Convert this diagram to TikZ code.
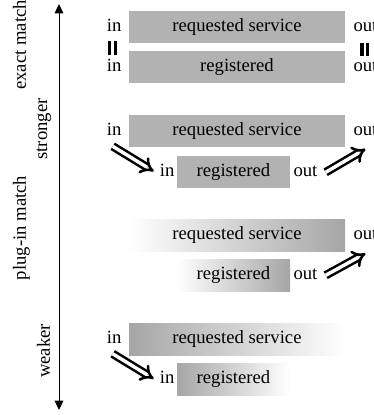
\documentclass[tikz,border=0pt]{standalone}
\usepackage{fontspec}
\setmainfont{Liberation Serif}
\newfontfamily\timesfont{Liberation Serif}
\usetikzlibrary{arrows.meta}

\begin{document}
\begin{tikzpicture}[x=0.75pt,y=-0.75pt,
    every node/.style={font=\timesfont\fontsize{14}{16}\selectfont},
    box/.style={minimum height=24pt,inner sep=0pt},
    wide/.style={box,minimum width=162pt},
    narrow/.style={box,minimum width=84.75pt},
    port/.style={inner sep=0pt},
    flat/.style={fill=black!30},
    fadeup/.style={left color=white,right color=black!35},
    fadedown/.style={left color=black!35,right color=white},
    impl/.style={double,double distance=2.6pt,line width=1.9pt,-{Implies}},
    eqbar/.style={line width=2.3pt}]

    \useasboundingbox (0,0) rectangle (374,415);

    %strength axis
    \coordinate (top) at (59,4);
    \coordinate (bot) at (59,410);
    \draw[line width=0.75pt,{Triangle[length=7pt,width=6.5pt]}-{Triangle[length=7pt,width=6.5pt]}] (top) -- (bot);
    \node[rotate=90,anchor=base] (exact) at (26,45) {exact match};
    \node[rotate=90,anchor=base] (plugin) at (26,228) {plug-in match};
    \node[rotate=90,anchor=base] (strong) at (47,129) {stronger};
    \node[rotate=90,anchor=base] (weak) at (50,351) {weaker};

    %exact match
    \node[wide,flat] (r1) at (237,27) {requested service};
    \node[wide,flat] (g1) at (237,67) {registered};
    %plug-in, both sides
    \node[wide,flat] (r2) at (237,131) {requested service};
    \node[narrow,flat] (g2) at (233.5,172) {registered};
    %plug-in, output only
    \node[wide,fadeup] (r3) at (237,235.5) {requested service};
    \node[narrow,fadeup] (g3) at (233.5,275) {registered};
    %plug-in, input only
    \node[wide,fadedown] (r4) at (237,339.5) {requested service};
    \node[narrow,fadedown] (g4) at (233.5,379.5) {registered};

    %ports
    \node[port,anchor=base east] (in1) at ([xshift=-5.25pt]r1.base west) {in};
    \node[port,anchor=base west] (out1) at ([xshift=6pt]r1.base east) {out};
    \node[port,anchor=base east] (ing1) at ([xshift=-5.25pt]g1.base west) {in};
    \node[port,anchor=base west] (outg1) at ([xshift=6pt]g1.base east) {out};
    \node[port,anchor=base east] (in2) at ([xshift=-5.25pt]r2.base west) {in};
    \node[port,anchor=base west] (out2) at ([xshift=6pt]r2.base east) {out};
    \node[port,anchor=base east] (ing2) at ([xshift=-1.5pt]g2.base west) {in};
    \node[port,anchor=base west] (outg2) at ([xshift=2.25pt]g2.base east) {out};
    \node[port,anchor=base west] (out3) at ([xshift=6pt]r3.base east) {out};
    \node[port,anchor=base west] (outg3) at ([xshift=2.25pt]g3.base east) {out};
    \node[port,anchor=base east] (in4) at ([xshift=-5.25pt]r4.base west) {in};
    \node[port,anchor=base east] (ing4) at ([xshift=-1.5pt]g4.base west) {in};

    %equal signs
    \draw[eqbar] (109.5,41) -- (109.5,55) (115.5,41) -- (115.5,55);
    \draw[eqbar] (362,43) -- (362,56) (367.5,43) -- (367.5,56);

    %implications
    \draw[impl] ([shift={(-47,-24)}]ing2.west) -- ([shift={(-6,1)}]ing2.west);
    \draw[impl] ([shift={(8,1)}]outg2.east) -- ([shift={(0,13)}]out2.south);
    \draw[impl] ([shift={(8,1)}]outg3.east) -- ([shift={(0,13)}]out3.south);
    \draw[impl] ([shift={(-47,-24)}]ing4.west) -- ([shift={(-6,1)}]ing4.west);

\end{tikzpicture}
\end{document}
